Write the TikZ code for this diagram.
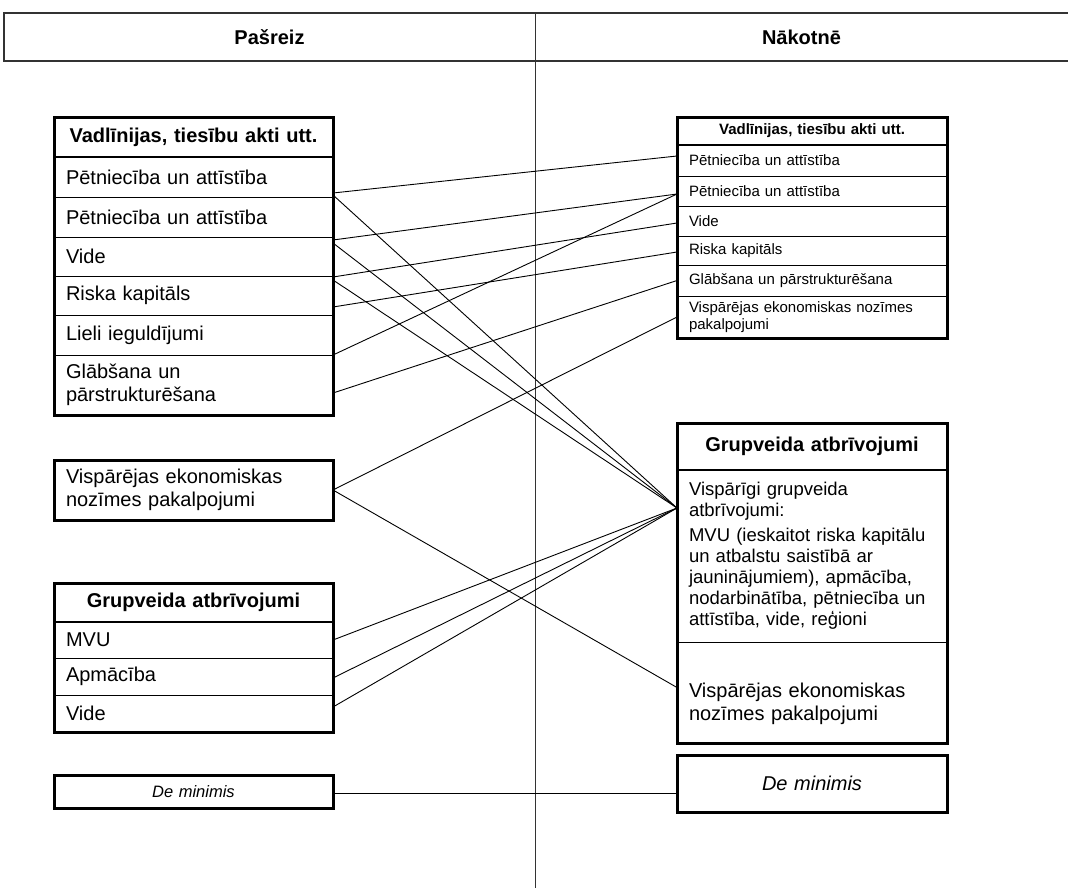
\documentclass[tikz,border=0pt]{standalone}
\usepackage{fontspec}
\setmainfont{Liberation Sans}
\begin{document}
\begin{tikzpicture}[x=1pt,y=-1pt,
  base/.style={draw, line width=0.9pt, anchor=north west, inner xsep=12pt, inner ysep=0pt, outer sep=0pt},
  bigrow/.style={base, text width=255pt, align=left, font=\fontsize{20}{23}\selectfont},
  bighdr/.style={base, text width=255pt, align=center, font=\bfseries\fontsize{20}{23}\selectfont},
  smallrow/.style={base, text width=246pt, align=left, font=\fontsize{15}{17}\selectfont},
  smallhdr/.style={base, text width=246pt, align=center, font=\bfseries\fontsize{15}{17}\selectfont},
  grprow/.style={base, text width=246pt, align=left, font=\fontsize{20}{23}\selectfont},
  grpsmall/.style={base, text width=246pt, align=left, font=\fontsize{18.5}{21}\selectfont},
  grphdr/.style={base, text width=246pt, align=center, font=\bfseries\fontsize{20}{23}\selectfont},
  frame/.style={draw, line width=3pt},
  sep/.style={draw, line width=2pt},
  conn/.style={draw, line width=0.9pt},
  hdrline/.style={draw=black!80, line width=1.3pt},
  coltitle/.style={font=\bfseries\fontsize{20}{23}\selectfont}
]
\useasboundingbox (0,0) rectangle (1068,891);

% column header
\draw[hdrline] (1068,13) -- (4,13) -- (4,61) -- (1068,61);
\draw[draw=black!80, line width=1pt] (535,13) -- (535,888);
\node[coltitle] (past) at (269.5,37) {Pašreiz};
\node[coltitle] (future) at (801.5,37) {Nākotnē};

% ---------- left: guidelines box
\node[bighdr, minimum height=40] (L0) at (54,117) {Vadlīnijas, tiesību akti utt.};
\node[bigrow, minimum height=40] (L1) at (54,157) {Pētniecība un attīstība};
\node[bigrow, minimum height=40] (L2) at (54,197) {Pētniecība un attīstība};
\node[bigrow, minimum height=39] (L3) at (54,237) {Vide};
\node[bigrow, minimum height=39] (L4) at (54,276) {Riska kapitāls};
\node[bigrow, minimum height=40] (L5) at (54,315) {Lieli ieguldījumi};
\node[bigrow, minimum height=60] (L6) at (54,355) {Glābšana un\\pārstrukturēšana};
\draw[sep] (L0.south west) -- (L0.south east);
\draw[frame] (L0.north west) rectangle (L6.south east);

% ---------- left: SGEI box
\node[bigrow, minimum height=60] (LV) at (54,460) {Vispārējas ekonomiskas\\nozīmes pakalpojumi};
\draw[frame] (LV.north west) rectangle (LV.south east);

% ---------- left: block exemptions
\node[bighdr, minimum height=39] (LG0) at (54,583) {Grupveida atbrīvojumi};
\node[bigrow, minimum height=36] (LG1) at (54,622) {MVU};
\node[bigrow, minimum height=37] (LG2) at (54,658) {Apmācība};
\node[bigrow, minimum height=37] (LG3) at (54,695) {Vide};
\draw[sep] (LG0.south west) -- (LG0.south east);
\draw[frame] (LG0.north west) rectangle (LG3.south east);

% ---------- left: de minimis
\node[base, text width=255pt, align=center, minimum height=33, font=\itshape\fontsize{16.5}{19}\selectfont] (LD) at (54,775) {De minimis};
\draw[frame] (LD.north west) rectangle (LD.south east);

% ---------- right: guidelines box
\node[smallhdr, minimum height=28] (R0) at (677,117) {Vadlīnijas, tiesību akti utt.};
\node[smallrow, minimum height=31] (R1) at (677,145) {Pētniecība un attīstība};
\node[smallrow, minimum height=30] (R2) at (677,176) {Pētniecība un attīstība};
\node[smallrow, minimum height=30] (R3) at (677,206) {Vide};
\node[smallrow, minimum height=29] (R4) at (677,236) {Riska kapitāls};
\node[smallrow, minimum height=31] (R5) at (677,265) {Glābšana un pārstrukturēšana};
\node[smallrow, minimum height=42] (R6) at (677,296) {Vispārējas ekonomiskas nozīmes\\pakalpojumi};
\draw[sep] (R0.south west) -- (R0.south east);
\draw[frame] (R0.north west) rectangle (R6.south east);

% ---------- right: block exemptions
\node[grphdr, minimum height=47] (RG0) at (677,423) {Grupveida atbrīvojumi};
\node[grpsmall, minimum height=172] (RG1) at (677,470) {Vispārīgi grupveida\\atbrīvojumi:\\[4pt]MVU (ieskaitot riska kapitālu\\un atbalstu saistībā ar\\jauninājumiem), apmācība,\\nodarbinātība, pētniecība un\\attīstība, vide, reģioni};
\node[grprow, minimum height=101] (RG2) at (677,642) {\rule{0pt}{37pt}Vispārējas ekonomiskas\\nozīmes pakalpojumi};
\draw[sep] (RG0.south west) -- (RG0.south east);
\draw[frame] (RG0.north west) rectangle (RG2.south east);

% ---------- right: de minimis
\node[base, text width=246pt, align=center, minimum height=57, font=\itshape\fontsize{20}{23}\selectfont] (RD) at (677,755) {De minimis};
\draw[frame] (RD.north west) rectangle (RD.south east);

% ---------- connectors
\coordinate (G) at ([yshift=-38pt]RG1.north west);
\draw[conn] ([yshift=4pt]L1.south east) -- ([yshift=4.5pt]R1.west);
\draw[conn] ([yshift=2pt]L1.south east) -- (G);
\draw[conn] ([yshift=-3pt]L3.north east) -- ([yshift=-3pt]R2.west);
\draw[conn] ([yshift=-6pt]L3.north east) -- (G);
\draw[conn] ([yshift=-1pt]L4.north east) -- ([yshift=-2pt]R3.west);
\draw[conn] ([yshift=-4pt]L4.north east) -- (G);
\draw[conn] ([yshift=8pt]L4.south east) -- ([yshift=-1.5pt]R4.west);
\draw[conn] (L5.south east) -- ([yshift=-3pt]R2.west);
\draw[conn] ([yshift=-8pt]L6.east) -- (R5.west);
\draw[conn] (LV.east) -- (R6.west);
\draw[conn] (LV.east) -- ([yshift=5pt]RG2.west);
\draw[conn] (LG1.east) -- (G);
\draw[conn] ([yshift=-1.5pt]LG2.east) -- (G);
\draw[conn] ([yshift=6.5pt]LG3.east) -- (G);
\draw[conn] ([yshift=-1.5pt]LD.east) -- ([yshift=-9.5pt]RD.west);
\end{tikzpicture}
\end{document}
